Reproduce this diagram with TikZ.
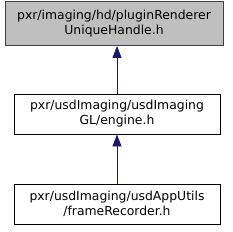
\documentclass[tikz,border=0pt]{standalone}
\usepackage{fontspec}
\setmainfont{DejaVu Sans}
\usetikzlibrary{arrows.meta}
\definecolor{edgeblue}{HTML}{191970}
\definecolor{hlfill}{HTML}{BFBFBF}
\definecolor{hlborder}{HTML}{404040}
\begin{document}
\begin{tikzpicture}[x=1pt,y=-1pt,
  filebox/.style={draw=black,fill=white,line width=0.9pt,minimum width=206pt,minimum height=40pt,inner sep=0pt,align=center,font=\fontsize{12.4}{15}\selectfont},
  hlbox/.style={filebox,draw=hlborder,fill=hlfill,minimum width=218pt,minimum height=44pt},
  dep/.style={draw=edgeblue,line width=0.9pt,-{Triangle[length=12pt,width=9pt]}}]
\useasboundingbox (0,0) rectangle (233,231);
\node[hlbox] (a) at (114,23.5) {pxr/imaging/hd/pluginRenderer\\UniqueHandle.h};
\node[filebox] (b) at (117,114) {pxr/usdImaging/usdImaging\\GL/engine.h};
\node[filebox] (c) at (117,204) {pxr/usdImaging/usdAppUtils\\/frameRecorder.h};
\draw[dep] (b.north) -- (b.north |- a.south);
\draw[dep] (c.north) -- (b.south);
\end{tikzpicture}
\end{document}
